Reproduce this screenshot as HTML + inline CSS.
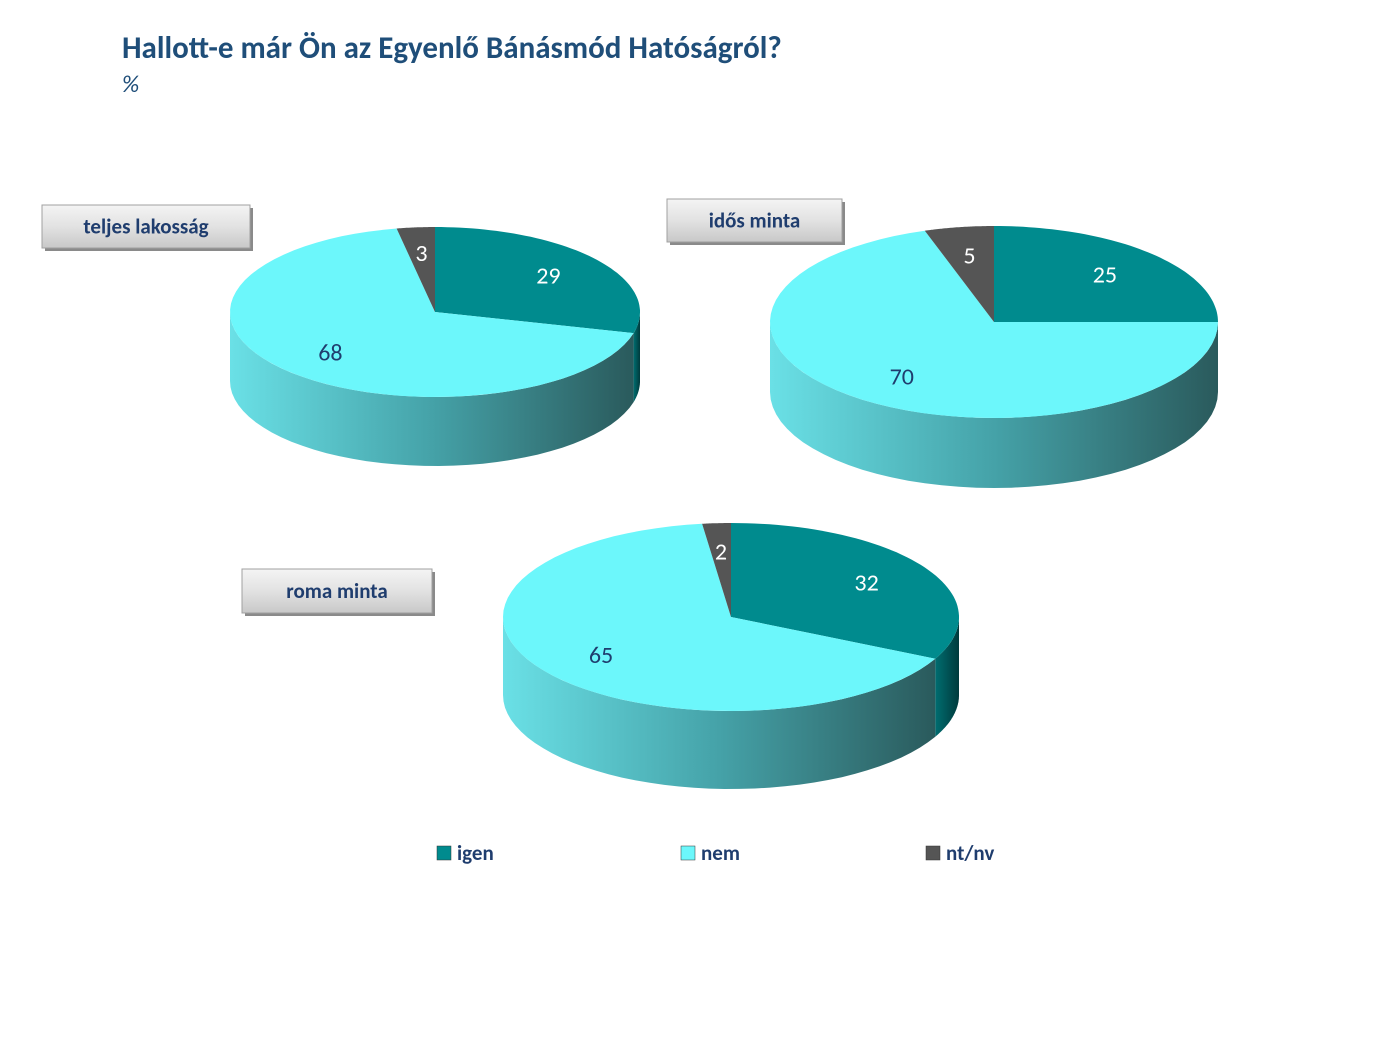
<!DOCTYPE html>
<html><head><meta charset="utf-8">
<style>
body{margin:0;background:#fff;font-family:"Liberation Sans",sans-serif;}
svg text{font-family:"Carlito","Liberation Sans",sans-serif;}
</style></head>
<body>
<svg id="c" width="1386" height="1039" xmlns="http://www.w3.org/2000/svg">
<defs>
<linearGradient id="sideNem" x1="0" x2="1" y1="0" y2="0"><stop offset="0" stop-color="#6ae0e6"/><stop offset="0.5" stop-color="#45a2a8"/><stop offset="1" stop-color="#2a5a5c"/></linearGradient>
<linearGradient id="sideIgen" x1="0" x2="1" y1="0" y2="0"><stop offset="0" stop-color="#006d70"/><stop offset="1" stop-color="#003a3c"/></linearGradient>
<linearGradient id="sideNt" x1="0" x2="1" y1="0" y2="0"><stop offset="0" stop-color="#444"/><stop offset="1" stop-color="#222"/></linearGradient>
<linearGradient id="btn" x1="0" x2="0" y1="0" y2="1"><stop offset="0" stop-color="#f4f4f4"/><stop offset="0.5" stop-color="#e2e2e2"/><stop offset="1" stop-color="#c8c8c8"/></linearGradient>
</defs>
<text x="122" y="58" font-size="31" font-weight="bold" fill="#1f4e79">Hallott-e már Ön az Egyenlő Bánásmód Hatóságról?</text>
<text x="122" y="92" font-size="24" font-style="italic" fill="#1f4e79">%</text>
<g id="pies"></g>
<g id="legend"></g>
</svg>
<script>
const seriesNames = ["igen","nem","nt/nv"];
const panelTitles = ["teljes lakosság","idős minta","roma minta"];
const valuesTeljes = [29,68,3];
const valuesIdos = [25,70,5];
const valuesRoma = [32,65,2];
const allValues = [valuesTeljes, valuesIdos, valuesRoma];

const topColors = ["#008b8e","#6cf7fb","#555555"];
const sideFills = ["url(#sideIgen)","url(#sideNem)","url(#sideNt)"];
const labelColors = ["#ffffff","#1f3d6e","#ffffff"];
const geo = [
  {cx:435,cy:312,rx:205,ry:85,d:69, box:[42,205,208,43]},
  {cx:994,cy:322,rx:224,ry:96,d:70, box:[667,199,175,43]},
  {cx:731,cy:617,rx:228,ry:94,d:78, box:[242,569,190,44]}
];
const NS="http://www.w3.org/2000/svg";
function mk(tag,attrs,parent){const e=document.createElementNS(NS,tag);for(const k in attrs)e.setAttribute(k,attrs[k]);parent.appendChild(e);return e;}
function pt(g,th,dy){return [g.cx+g.rx*Math.sin(th), g.cy-g.ry*Math.cos(th)+(dy||0)];}
const pies=document.getElementById('pies');
allValues.forEach((vals,pi)=>{
  const g=geo[pi];
  const grp=mk('g',{},pies);
  
  
  const total=vals.reduce((a,b)=>a+b,0);
  let acc=0; const angs=[];
  vals.forEach(v=>{const a0=acc/total*2*Math.PI;acc+=v;angs.push([a0,acc/total*2*Math.PI]);});
  // sides
  angs.forEach(([a0,a1],i)=>{
    const s=Math.max(a0,Math.PI/2), e=Math.min(a1,Math.PI*1.5);
    if(e<=s) return;
    let d='';const n=40;
    for(let k=0;k<=n;k++){const t=s+(e-s)*k/n;const p=pt(g,t);d+=(k?'L':'M')+p[0].toFixed(1)+','+p[1].toFixed(1);}
    for(let k=n;k>=0;k--){const t=s+(e-s)*k/n;const p=pt(g,t,g.d);d+='L'+p[0].toFixed(1)+','+p[1].toFixed(1);}
    const el=mk('path',{d:d+'Z',fill:sideFills[i]},grp);
    
    
  });
  // tops
  angs.forEach(([a0,a1],i)=>{
    let d='M'+g.cx+','+g.cy;const n=60;
    for(let k=0;k<=n;k++){const t=a0+(a1-a0)*k/n;const p=pt(g,t);d+='L'+p[0].toFixed(1)+','+p[1].toFixed(1);}
    const el=mk('path',{d:d+'Z',fill:topColors[i]},grp);
    
    
  });
  angs.forEach(([a0,a1],i)=>{
    const m=(a0+a1)/2;
    const x=g.cx+g.rx*0.7*Math.sin(m), y=g.cy-g.ry*0.7*Math.cos(m);
    const t=mk('text',{x:x.toFixed(1),y:(y+8).toFixed(1),'text-anchor':'middle','font-size':'24',fill:labelColors[i]},grp);
    t.textContent=vals[i];
    
    
  });
  const [bx,by,bw,bh]=g.box;
  const bg=mk('g',{},grp);
  
  
  mk('rect',{x:bx+3,y:by+3,width:bw,height:bh,fill:'#8a8a8a'},bg);
  mk('rect',{x:bx,y:by,width:bw,height:bh,fill:'url(#btn)',stroke:'#a0a0a0','stroke-width':1},bg);
  const bt=mk('text',{x:bx+bw/2,y:by+bh/2+7,'text-anchor':'middle','font-size':'21','font-weight':'bold',fill:'#1f3d6e'},bg);
  bt.textContent=panelTitles[pi];
});
const leg=document.getElementById('legend');
const legX=[437,681,926];
seriesNames.forEach((s,i)=>{
  const r=mk('rect',{x:legX[i],y:846,width:14,height:14,fill:topColors[i],stroke:'#333','stroke-width':0.5},leg);
  
  
  const t=mk('text',{x:legX[i]+20,y:860,'font-size':'21','font-weight':'bold',fill:'#1f3d6e'},leg);
  t.textContent=s;
  
  
});
</script>
</body></html>
